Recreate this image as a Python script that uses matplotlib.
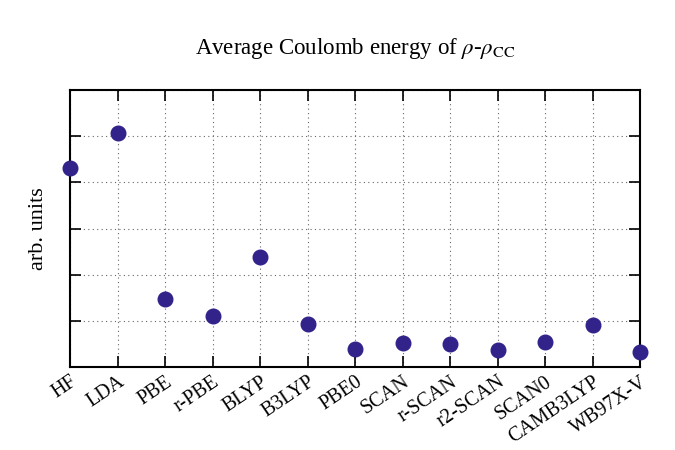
import matplotlib
matplotlib.use('Agg')
import matplotlib.pyplot as plt
import matplotlib.transforms as mtransforms
import numpy as np

functionals = ['HF', 'LDA', 'PBE', 'r-PBE', 'BLYP', 'B3LYP', 'PBE0', 'SCAN',
               'r-SCAN', 'r2-SCAN', 'SCAN0', 'CAMB3LYP', 'WB97X-V']
energy = [4.31, 5.07, 1.47, 1.10, 2.38, 0.93, 0.39, 0.52, 0.50, 0.37, 0.54, 0.91, 0.32]

plt.rcParams['font.family'] = ['Liberation Serif', 'DejaVu Serif']
plt.rcParams['mathtext.fontset'] = 'stix'

fig = plt.figure(figsize=(6.75, 4.5), dpi=100)
ax = fig.add_axes([70/675, 83/450, 570/675, 277/450])

x = np.arange(len(functionals))
ax.plot(x, energy, 'o', color='#31238a', markersize=10.5, clip_on=False, zorder=3)

ax.set_xlim(0, len(functionals) - 1)
ax.set_ylim(0, 6)
ax.set_xticks(x)
ax.set_xticklabels(functionals, rotation=34, ha='right', va='top',
                   rotation_mode='anchor', fontsize=14.5)
# nudge labels a little to the left, as in the original
shift = mtransforms.ScaledTranslation(-4/100, 0, fig.dpi_scale_trans)
for lbl in ax.get_xticklabels():
    lbl.set_transform(lbl.get_transform() + shift)
ax.set_yticks(np.arange(0, 7))
ax.set_yticklabels([])
ax.tick_params(direction='in', length=8, width=1.2, top=True, right=True)
ax.tick_params(axis='x', pad=4)
ax.grid(True, linestyle=(0, (1, 3)), color='#666666', linewidth=0.8)
for s in ax.spines.values():
    s.set_linewidth(1.5)

ax.set_ylabel('arb. units', fontsize=16, labelpad=12)
ax.set_title(r'Average Coulomb energy of $\rho$-$\rho_{\rm CC}$', fontsize=16.5, pad=26)

plt.savefig('out.png', dpi=100)
